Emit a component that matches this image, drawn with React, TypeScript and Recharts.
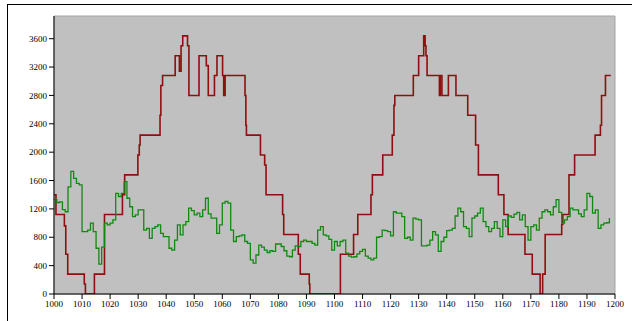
import React from 'react';
import {
  LineChart,
  Line,
  XAxis,
  YAxis,
  ReferenceArea,
} from 'recharts';

// x ticks (1000..1200) and y ticks
const xTicks = [
  1000, 1010, 1020, 1030, 1040, 1050, 1060, 1070, 1080, 1090, 1100,
  1110, 1120, 1130, 1140, 1150, 1160, 1170, 1180, 1190, 1200,
];
const yTicks = [0, 400, 800, 1200, 1600, 2000, 2400, 2800, 3200, 3600];

// red series: change points of the step line
const redX = [
  1000, 1000.7, 1003.7, 1004.2, 1004.9, 1010.8, 1011.2, 1014.4, 1018.0, 1024.4,
  1025.2, 1029.9, 1030.4, 1030.7, 1037.8, 1038.1, 1038.7, 1043.2, 1044.7, 1045.3,
  1045.9, 1047.6, 1048.1, 1051.7, 1054.3, 1055.0, 1057.2, 1058.1, 1060.1, 1060.5,
  1061.0, 1068.1, 1068.4, 1068.6, 1073.6, 1075.1, 1075.6, 1081.5, 1081.9, 1087.1,
  1087.8, 1091.0, 1091.2, 1102.1, 1106.8, 1108.3, 1113.0, 1113.5, 1117.2, 1120.6,
  1121.2, 1121.5, 1128.1, 1130.0, 1131.8, 1132.3, 1132.6, 1133.0, 1137.4, 1137.7,
  1138.3, 1140.6, 1143.3, 1147.5, 1150.3, 1151.3, 1158.4, 1160.4, 1161.9, 1167.9,
  1170.5, 1173.3, 1174.2, 1175.1, 1181.0, 1181.4, 1183.6, 1185.6, 1192.9, 1194.8,
  1195.2, 1196.6, 1198.5,
];
const redY = [
  1400, 1120, 960, 560, 280, 140, 0, 280, 1120, 1400,
  1680, 1960, 2100, 2240, 2520, 2940, 3080, 3360, 3140, 3500,
  3640, 3500, 2800, 3360, 3220, 2800, 3080, 3360, 3080, 2800,
  3080, 2800, 2380, 2240, 1960, 1820, 1400, 1120, 840, 560,
  280, 140, 0, 560, 840, 1120, 1400, 1680, 1960, 2240,
  2660, 2800, 3080, 3360, 3640, 3500, 3360, 3080, 2800, 3080,
  2800, 3080, 2800, 2520, 2100, 1680, 1400, 1120, 840, 560,
  280, 0, 280, 840, 980, 1120, 1680, 1960, 2240, 2380,
  2800, 3080, 3080,
];

// green series: one value per unit from 1000 to 1198
const greenY = [
  1330, 1290, 1300, 1190, 1160, 1510, 1730, 1630, 1560, 1540,
  880, 880, 900, 1000, 880, 645, 420, 660, 1000, 975,
  1000, 1045, 1420, 1375, 1420, 1585, 1350, 1230, 1090, 1115,
  1185, 1185, 900, 925, 785, 925, 950, 975, 855, 810,
  810, 645, 620, 760, 975, 835, 975, 1020, 1210, 1175,
  1115, 1140, 1090, 1185, 1350, 1130, 1070, 1070, 855, 975,
  1280, 1305, 1280, 900, 740, 810, 820, 835, 740, 715,
  480, 435, 550, 690, 660, 620, 585, 610, 600, 705,
  705, 670, 610, 535, 525, 620, 680, 670, 740, 760,
  740, 740, 715, 690, 900, 950, 835, 820, 770, 620,
  740, 680, 740, 760, 575, 535, 520, 525, 565, 600,
  630, 535, 505, 480, 505, 800, 810, 900, 895, 880,
  820, 1160, 1140, 1140, 1090, 785, 800, 760, 1070, 1055,
  1045, 680, 680, 690, 760, 880, 835, 600, 740, 800,
  895, 900, 925, 1100, 1210, 1160, 950, 925, 810, 1070,
  1100, 1140, 1210, 1020, 950, 880, 925, 1020, 925, 810,
  1045, 950, 1100, 1080, 1125, 1150, 1045, 1115, 950, 760,
  950, 975, 900, 1070, 1160, 1185, 1160, 1115, 1230, 1330,
  1150, 1000, 1045, 1090, 1210, 1185, 1185, 1130, 1090, 1185,
  1420, 1375, 1140, 1185, 925, 975, 1000, 1005, 1070,
];

const redData = redX.map((x, i) => ({ x, v: redY[i] }));
const greenData = greenY.map((v, i) => ({ x: 1000 + i, v }));

const tickStyle = { fontSize: 9, fill: '#000', fontFamily: '"Liberation Serif", serif' };

export default function App() {
  return (
    <div style={{ position: 'absolute', left: 0, top: 0, width: 632, height: 321, background: '#fff', overflow: 'hidden' }}>
      {/* outer frame */}
      <div
        style={{
          position: 'absolute',
          left: 7,
          top: 4,
          width: 700,
          height: 400,
          borderLeft: '1px solid #000',
          borderTop: '1px solid #000',
        }}
      />
      <div style={{ position: 'absolute', left: 0, top: 0 }}>
        <LineChart
          width={632}
          height={321}
          margin={{ top: 16, right: 17, left: 0, bottom: 5 }}
        >
          <XAxis
            type="number"
            dataKey="x"
            domain={[1000, 1200]}
            ticks={xTicks}
            interval={0}
            tick={tickStyle}
            tickSize={5}
            height={22}
            stroke="#000"
            allowDataOverflow
          />
          <YAxis
            type="number"
            domain={[0, 3920]}
            ticks={yTicks}
            interval={0}
            tick={tickStyle}
            tickSize={5}
            width={54}
            stroke="#000"
            allowDataOverflow
          />
          {/* grey plot background */}
          <ReferenceArea
            x1={1000}
            x2={1200}
            y1={0}
            y2={3920}
            fill="#c0c0c0"
            fillOpacity={1}
            stroke="#a4a4a4"
            strokeOpacity={1}
          />
          <Line
            data={redData}
            dataKey="v"
            type="stepAfter"
            stroke="#8e0f0f"
            strokeWidth={1.6}
            dot={false}
            isAnimationActive={false}
          />
          <Line
            data={greenData}
            dataKey="v"
            type="stepAfter"
            stroke="#0f8a0f"
            strokeWidth={1.3}
            dot={false}
            isAnimationActive={false}
          />
        </LineChart>
      </div>
    </div>
  );
}
